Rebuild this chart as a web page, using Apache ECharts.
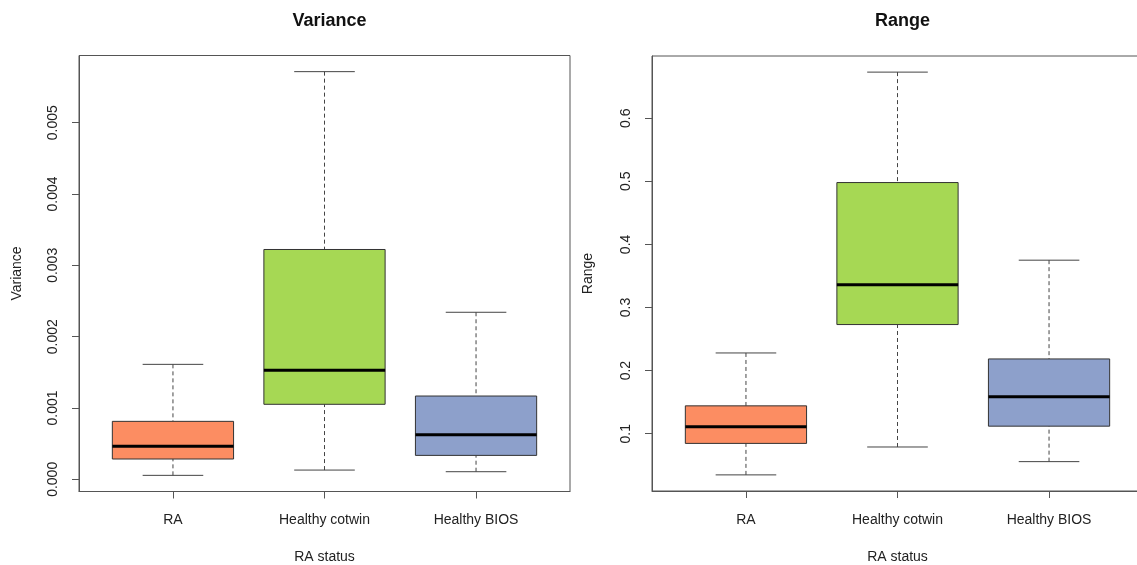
<!DOCTYPE html>
<html>
<head>
<meta charset="utf-8">
<script src="https://cdn.jsdelivr.net/npm/echarts@6/dist/echarts.min.js"></script>
<style>
html,body{margin:0;padding:0;background:#fff;}
#chart{width:1137px;height:565px;}
</style>
</head>
<body>
<div id="chart"></div>
<script>
// ---- data ----
const categories = ['RA', 'Healthy cotwin', 'Healthy BIOS'];
const boxColors = ['#FC8D62', '#A6D854', '#8DA0CB'];

// [lower whisker, Q1, median, Q3, upper whisker]
const varianceRA     = [0.000056, 0.000285, 0.000463, 0.000813, 0.001612];
const varianceCotwin = [0.000130, 0.001052, 0.001528, 0.003222, 0.005715];
const varianceBIOS   = [0.000107, 0.000336, 0.000625, 0.001168, 0.002342];

const rangeRA     = [0.0348, 0.0847, 0.1110, 0.1442, 0.2280];
const rangeCotwin = [0.0790, 0.2730, 0.3360, 0.4980, 0.6730];
const rangeBIOS   = [0.0558, 0.1120, 0.1585, 0.2185, 0.3750];

const varianceTicks = [0, 0.001, 0.002, 0.003, 0.004, 0.005];
const rangeTicks = [0.1, 0.2, 0.3, 0.4, 0.5, 0.6];
const categoryPositions = [1, 2, 3];

// ---- helpers ----
function rLimits(groups) {
  let lo = Infinity, hi = -Infinity;
  groups.forEach(g => { lo = Math.min(lo, g[0]); hi = Math.max(hi, g[4]); });
  const pad = 0.04 * (hi - lo);
  return [lo - pad, hi + pad];
}
const varGroups = [varianceRA, varianceCotwin, varianceBIOS];
const rngGroups = [rangeRA, rangeCotwin, rangeBIOS];
const varLim = rLimits(varGroups);
const rngLim = rLimits(rngGroups);

const FONT = '"Liberation Sans", Arial, Helvetica, sans-serif';
const LINE = '#444';
const FRAME = '#555';

function seriesData(groups) {
  return groups.map((g, i) => [categoryPositions[i], g[0], g[1], g[2], g[3], g[4], i]);
}

function renderBox(params, api) {
  const x = api.value(0);
  const lw = api.value(1), q1 = api.value(2), med = api.value(3), q3 = api.value(4), uw = api.value(5);
  const ci = api.value(6);
  const boxHalf = 0.4, stapleHalf = 0.2;
  const pL = api.coord([x - boxHalf, q3]);
  const pR = api.coord([x + boxHalf, q1]);
  const pMedL = api.coord([x - boxHalf, med]);
  const pMedR = api.coord([x + boxHalf, med]);
  const pLw = api.coord([x, lw]);
  const pUw = api.coord([x, uw]);
  const pQ1 = api.coord([x, q1]);
  const pQ3 = api.coord([x, q3]);
  const sL = api.coord([x - stapleHalf, lw])[0];
  const sR = api.coord([x + stapleHalf, lw])[0];
  const dash = {stroke: LINE, lineWidth: 1, lineDash: [4, 3]};
  const solid = {stroke: LINE, lineWidth: 1};
  return {
    type: 'group',
    children: [
      {type: 'line', shape: {x1: pUw[0], y1: pUw[1], x2: pQ3[0], y2: pQ3[1]}, style: dash},
      {type: 'line', shape: {x1: pLw[0], y1: pLw[1], x2: pQ1[0], y2: pQ1[1]}, style: dash},
      {type: 'line', shape: {x1: sL, y1: pUw[1], x2: sR, y2: pUw[1]}, style: solid},
      {type: 'line', shape: {x1: sL, y1: pLw[1], x2: sR, y2: pLw[1]}, style: solid},
      {type: 'rect', shape: {x: pL[0], y: pL[1], width: pR[0] - pL[0], height: pR[1] - pL[1]},
        style: {fill: boxColors[ci], stroke: '#333', lineWidth: 1}},
      {type: 'line', shape: {x1: pMedL[0], y1: pMedL[1], x2: pMedR[0], y2: pMedR[1]},
        style: {stroke: '#000', lineWidth: 3}}
    ]
  };
}

function xAxisFor(gridIndex) {
  return {
    type: 'value', gridIndex: gridIndex, min: 0.38, max: 3.62,
    name: 'RA status', nameLocation: 'middle', nameGap: 59,
    nameTextStyle: {fontFamily: FONT, fontSize: 14, color: '#222'},
    axisLine: {show: true, onZero: false, lineStyle: {color: FRAME, width: 1}},
    axisTick: {show: true, length: 7, lineStyle: {color: FRAME}, customValues: categoryPositions},
    axisLabel: {show: true, margin: 22, fontFamily: FONT, fontSize: 14, color: '#222',
      customValues: categoryPositions, formatter: v => categories[Math.round(v) - 1]},
    splitLine: {show: false}
  };
}

function yAxisFor(gridIndex, lim, ticks, name, decimals, nameGap) {
  return {
    type: 'value', gridIndex: gridIndex, min: lim[0], max: lim[1],
    name: name, nameLocation: 'middle', nameGap: nameGap,
    nameTextStyle: {fontFamily: FONT, fontSize: 14, color: '#222'},
    axisLine: {show: true, onZero: false, lineStyle: {color: FRAME, width: 1}},
    axisTick: {show: true, length: 7, lineStyle: {color: FRAME}, customValues: ticks},
    axisLabel: {show: true, rotate: 90, margin: 19, fontFamily: FONT, fontSize: 14, color: '#222',
      customValues: ticks, formatter: v => v.toFixed(decimals)},
    splitLine: {show: false}
  };
}

const chart = echarts.init(document.getElementById('chart'), null, {renderer: 'canvas'});
chart.setOption({
  animation: false,
  backgroundColor: '#fff',
  title: [
    {text: 'Variance', left: 324.5, textAlign: 'center', top: 7,
      textStyle: {fontFamily: FONT, fontSize: 18, fontWeight: 'bold', color: '#111'}},
    {text: 'Range', left: 897.5, textAlign: 'center', top: 7,
      textStyle: {fontFamily: FONT, fontSize: 18, fontWeight: 'bold', color: '#111'}}
  ],
  grid: [
    {left: 79, top: 55.5, width: 491, height: 436, outerBoundsMode: 'none', containLabel: false,
      show: true, borderColor: FRAME, borderWidth: 1, backgroundColor: 'transparent'},
    {left: 652, top: 56, width: 491, height: 435, outerBoundsMode: 'none', containLabel: false,
      show: true, borderColor: FRAME, borderWidth: 1, backgroundColor: 'transparent'}
  ],
  xAxis: [xAxisFor(0), xAxisFor(1)],
  yAxis: [
    yAxisFor(0, varLim, varianceTicks, 'Variance', 3, 55),
    yAxisFor(1, rngLim, rangeTicks, 'Range', 1, 57)
  ],
  series: [
    {type: 'custom', xAxisIndex: 0, yAxisIndex: 0, renderItem: renderBox,
      encode: {x: 0, y: [1, 2, 3, 4, 5]}, data: seriesData(varGroups)},
    {type: 'custom', xAxisIndex: 1, yAxisIndex: 1, renderItem: renderBox,
      encode: {x: 0, y: [1, 2, 3, 4, 5]}, data: seriesData(rngGroups)}
  ]
});
</script>
</body>
</html>
